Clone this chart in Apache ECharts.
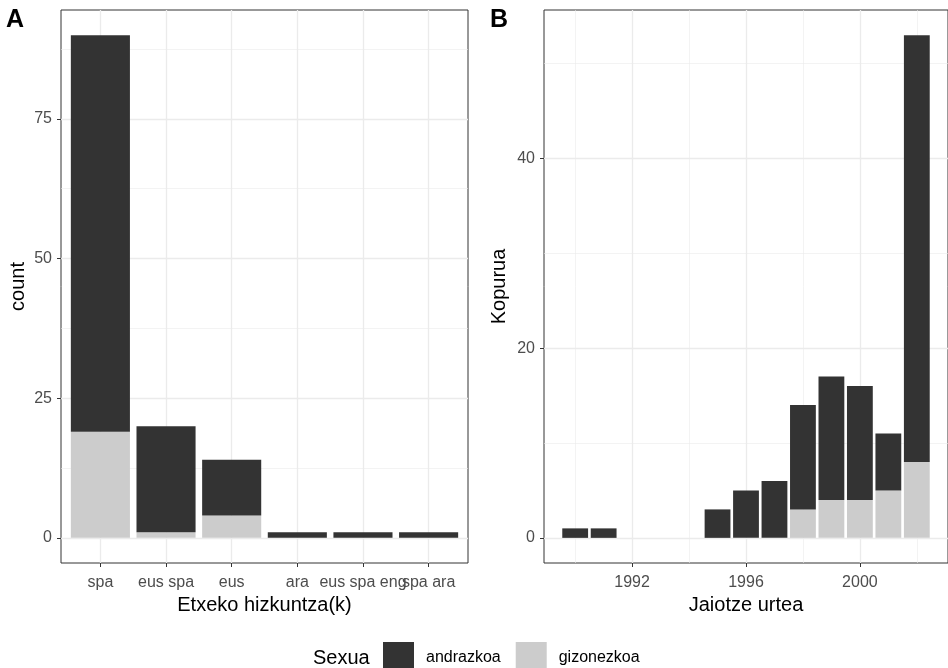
<!DOCTYPE html>
<html>
<head>
<meta charset="utf-8">
<script src="https://cdn.jsdelivr.net/npm/echarts@6/dist/echarts.min.js"></script>
<style>
  html, body { margin: 0; padding: 0; background: #fff; }
  #chart { width: 948px; height: 668px; }
</style>
</head>
<body>
<div id="chart"></div>
<script>
// panel A: home language(s)
const langs = ['spa', 'eus spa', 'eus', 'ara', 'eus spa eng', 'spa ara']
const langAndrazkoa = [71, 19, 10, 1, 1, 1]
const langGizonezkoa = [19, 1, 4, 0, 0, 0]

// panel B: birth year
const years = [1990, 1991, 1995, 1996, 1997, 1998, 1999, 2000, 2001, 2002]
const yearAndrazkoa = [1, 1, 3, 5, 6, 11, 13, 12, 6, 45]
const yearGizonezkoa = [0, 0, 0, 0, 0, 3, 4, 4, 5, 8]

// tick labels
const countTicksA = [0, 25, 50, 75]
const countMinorA = [12.5, 37.5, 62.5, 87.5]
const countTicksB = [0, 20, 40]
const countMinorB = [10, 30, 50]
const yearTicks = [1992, 1996, 2000]
const yearMinor = [1990, 1994, 1998, 2002]

const colors = {
  andrazkoa: '#333333',
  gizonezkoa: '#cccccc'
}

const font = 'Liberation Sans, Arial, sans-serif'
const panelW = 407

// ggplot style 5% expansion
const totalsA = langAndrazkoa.map((v, i) => v + langGizonezkoa[i])
const totalsB = yearAndrazkoa.map((v, i) => v + yearGizonezkoa[i])
const maxA = Math.max(...totalsA)
const maxB = Math.max(...totalsB)
const xA = [0.4, langs.length + 0.6]
const bLo = years[0] - 0.45, bHi = years[years.length - 1] + 0.45
const xB = [bLo - (bHi - bLo) * 0.05, bHi + (bHi - bLo) * 0.05]

const barWA = 0.9 * panelW / (xA[1] - xA[0])
const barWB = 0.9 * panelW / (xB[1] - xB[0])

const langPos = langs.map((d, i) => i + 1)
const langName = v => langs[Math.round(v) - 1] || ''

const tickLabel = { color: '#4d4d4d', fontSize: 16, fontFamily: font, hideOverlap: false }
const nameStyle = { color: '#000', fontSize: 20, fontFamily: font }
const tickLine = { color: '#333', width: 1 }

const majorAxis = (extra) => Object.assign({
  type: 'value',
  axisLine: { show: false, onZero: false },
  splitLine: { show: true, lineStyle: { color: '#ebebeb', width: 1.3 } },
  nameLocation: 'middle',
  nameTextStyle: nameStyle
}, extra)

const minorAxis = (extra) => Object.assign({
  type: 'value',
  axisLine: { show: false, onZero: false },
  axisLabel: { show: false },
  splitLine: { show: true, lineStyle: { color: '#ebebeb', width: 0.6 } }
}, extra)

// value first so the stack sums the count dimension
const stackData = (vals, xs) => vals.map((v, i) => [v, xs[i]])

const chart = echarts.init(document.getElementById('chart'))

const option = {
  animation: false,
  backgroundColor: '#fff',
  textStyle: { fontFamily: font },
  title: [
    { text: 'A', left: 6, top: 8, padding: 0, textStyle: { fontSize: 25, fontWeight: 'bold', color: '#000', fontFamily: font } },
    { text: 'B', left: 490, top: 8, padding: 0, textStyle: { fontSize: 25, fontWeight: 'bold', color: '#000', fontFamily: font } }
  ],
  graphic: [
    { type: 'text', left: 313, top: 648, style: { text: 'Sexua', fontSize: 20, fontFamily: font, fill: '#000' } }
  ],
  legend: {
    left: 383,
    top: 642,
    padding: 0,
    itemWidth: 31,
    itemHeight: 31,
    itemGap: 15,
    icon: 'rect',
    data: ['andrazkoa', 'gizonezkoa'],
    textStyle: { fontSize: 16, color: '#000', fontFamily: font, padding: [0, 0, 0, 7] }
  },
  grid: [
    { left: 61, top: 10, width: panelW, height: 553, show: true, borderColor: '#333', borderWidth: 1, backgroundColor: '#fff' },
    { left: 544, top: 10, width: panelW, height: 553, show: true, borderColor: '#333', borderWidth: 1, backgroundColor: '#fff' }
  ],
  xAxis: [
    majorAxis({
      gridIndex: 0, min: xA[0], max: xA[1],
      name: 'Etxeko hizkuntza(k)', nameGap: 31,
      axisTick: { show: true, length: 4, lineStyle: tickLine, customValues: langPos },
      axisLabel: Object.assign({ margin: 12, customValues: langPos.slice(0, -1), formatter: langName }, tickLabel)
    }),
    majorAxis({
      gridIndex: 1, min: xB[0], max: xB[1],
      name: 'Jaiotze urtea', nameGap: 31,
      axisTick: { show: true, length: 4, lineStyle: tickLine, customValues: yearTicks },
      axisLabel: Object.assign({ margin: 12, customValues: yearTicks, formatter: v => String(v) }, tickLabel)
    }),
    minorAxis({
      gridIndex: 1, min: xB[0], max: xB[1],
      axisTick: { show: false, customValues: yearMinor }
    }),
    // last language label on its own axis so it is not dropped as overlapping
    {
      type: 'value', gridIndex: 0, min: xA[0], max: xA[1], position: 'bottom',
      axisLine: { show: false, onZero: false },
      axisTick: { show: false, customValues: langPos.slice(-1) },
      splitLine: { show: false },
      axisLabel: Object.assign({ margin: 12, customValues: langPos.slice(-1), formatter: langName }, tickLabel)
    }
  ],
  yAxis: [
    majorAxis({
      gridIndex: 0, min: -maxA * 0.05, max: maxA * 1.05,
      name: 'count', nameGap: 33,
      axisTick: { show: true, length: 4, lineStyle: tickLine, customValues: countTicksA },
      axisLabel: Object.assign({ margin: 9, customValues: countTicksA }, tickLabel)
    }),
    minorAxis({
      gridIndex: 0, min: -maxA * 0.05, max: maxA * 1.05,
      axisTick: { show: false, customValues: countMinorA }
    }),
    majorAxis({
      gridIndex: 1, min: -maxB * 0.05, max: maxB * 1.05,
      name: 'Kopurua', nameGap: 35,
      axisTick: { show: true, length: 4, lineStyle: tickLine, customValues: countTicksB },
      axisLabel: Object.assign({ margin: 9, customValues: countTicksB }, tickLabel)
    }),
    minorAxis({
      gridIndex: 1, min: -maxB * 0.05, max: maxB * 1.05,
      axisTick: { show: false, customValues: countMinorB }
    })
  ],
  series: [
    {
      name: 'gizonezkoa', type: 'bar', stack: 'a', xAxisIndex: 0, yAxisIndex: 0,
      encode: { x: 1, y: 0 },
      barWidth: barWA, itemStyle: { color: colors.gizonezkoa },
      data: stackData(langGizonezkoa, langPos)
    },
    {
      name: 'andrazkoa', type: 'bar', stack: 'a', xAxisIndex: 0, yAxisIndex: 0,
      encode: { x: 1, y: 0 },
      barWidth: barWA, itemStyle: { color: colors.andrazkoa },
      data: stackData(langAndrazkoa, langPos)
    },
    {
      name: 'gizonezkoa', type: 'bar', stack: 'b', xAxisIndex: 1, yAxisIndex: 2,
      encode: { x: 1, y: 0 },
      barWidth: barWB, itemStyle: { color: colors.gizonezkoa },
      data: stackData(yearGizonezkoa, years)
    },
    {
      name: 'andrazkoa', type: 'bar', stack: 'b', xAxisIndex: 1, yAxisIndex: 2,
      encode: { x: 1, y: 0 },
      barWidth: barWB, itemStyle: { color: colors.andrazkoa },
      data: stackData(yearAndrazkoa, years)
    }
  ]
}

chart.setOption(option)
</script>
</body>
</html>
